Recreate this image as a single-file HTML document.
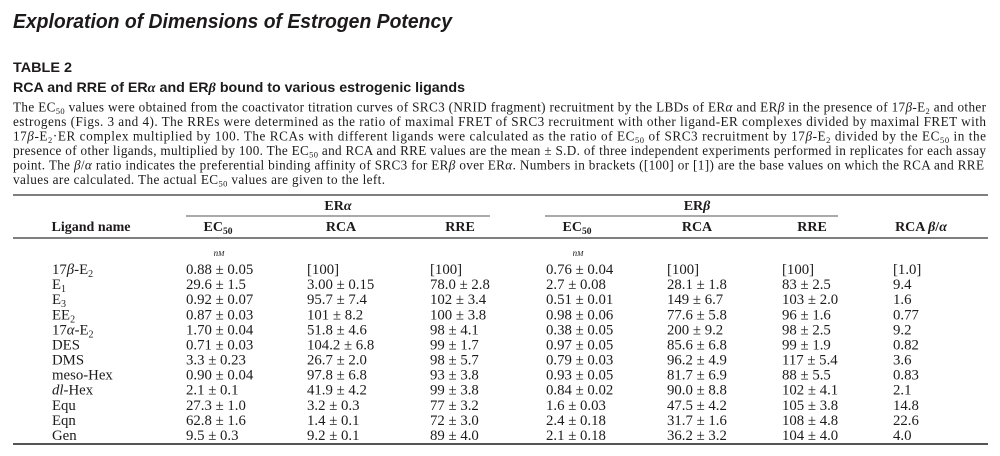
<!DOCTYPE html>
<html><head><meta charset="utf-8">
<style>
html,body{margin:0;padding:0;background:#fff;width:1000px;height:456px;overflow:hidden}
svg{display:block}
.s{font-family:"Liberation Serif",serif;fill:#1c1a1b}
.h{font-family:"Liberation Sans",sans-serif;fill:#1c1a1b}
</style></head>
<body>
<svg width="1000" height="456" viewBox="0 0 1000 456" xmlns="http://www.w3.org/2000/svg">
<rect width="1000" height="456" fill="#fff"/>

<!-- Title -->
<text class="h" x="13" y="28" font-size="20.5" font-style="italic" font-weight="bold" textLength="439" lengthAdjust="spacingAndGlyphs" fill="#2a2a2a">Exploration of Dimensions of Estrogen Potency</text>

<text class="h" x="13" y="72" font-size="14" font-weight="bold" textLength="59" lengthAdjust="spacingAndGlyphs">TABLE 2</text>
<text class="h" x="13" y="92" font-size="14" font-weight="bold" textLength="452" lengthAdjust="spacingAndGlyphs">RCA and RRE of ER<tspan class="s" font-style="italic">α</tspan> and ER<tspan class="s" font-style="italic">β</tspan> bound to various estrogenic ligands</text>

<!-- Caption -->
<g class="s" font-size="13.2">
<text class="s" x="13" y="111.5" textLength="973" lengthAdjust="spacing">The EC<tspan font-size="8.5" dy="2.5">50</tspan><tspan dy="-2.5"> values were obtained from the coactivator titration curves of SRC3 (NRID fragment) recruitment by the LBDs of ER</tspan><tspan font-style="italic">α</tspan> and ER<tspan font-style="italic">β</tspan> in the presence of 17<tspan font-style="italic">β</tspan>-E<tspan font-size="8.5" dy="2.5">2</tspan><tspan dy="-2.5"> and other</tspan></text>
<text class="s" x="13" y="126" textLength="973" lengthAdjust="spacing">estrogens (Figs. 3 and 4). The RREs were determined as the ratio of maximal FRET of SRC3 recruitment with other ligand-ER complexes divided by maximal FRET with</text>
<text class="s" x="13" y="140.5" textLength="973" lengthAdjust="spacing">17<tspan font-style="italic">β</tspan>-E<tspan font-size="8.5" dy="2.5">2</tspan><tspan dy="-2.5">·ER complex multiplied by 100. The RCAs with different ligands were calculated as the ratio of EC</tspan><tspan font-size="8.5" dy="2.5">50</tspan><tspan dy="-2.5"> of SRC3 recruitment by 17</tspan><tspan font-style="italic">β</tspan>-E<tspan font-size="8.5" dy="2.5">2</tspan><tspan dy="-2.5"> divided by the EC</tspan><tspan font-size="8.5" dy="2.5">50</tspan><tspan dy="-2.5"> in the</tspan></text>
<text class="s" x="13" y="155" textLength="973" lengthAdjust="spacing">presence of other ligands, multiplied by 100. The EC<tspan font-size="8.5" dy="2.5">50</tspan><tspan dy="-2.5"> and RCA and RRE values are the mean ± S.D. of three independent experiments performed in replicates for each assay</tspan></text>
<text class="s" x="13" y="169.5" textLength="971" lengthAdjust="spacing">point. The <tspan font-style="italic">β</tspan>/<tspan font-style="italic">α</tspan> ratio indicates the preferential binding affinity of SRC3 for ER<tspan font-style="italic">β</tspan> over ER<tspan font-style="italic">α</tspan>. Numbers in brackets ([100] or [1]) are the base values on which the RCA and RRE</text>
<text class="s" x="13" y="184" textLength="372" lengthAdjust="spacing">values are calculated. The actual EC<tspan font-size="8.5" dy="2.5">50</tspan><tspan dy="-2.5"> values are given to the left.</tspan></text>
</g>

<!-- Rules -->
<line x1="13" y1="195" x2="988" y2="195" stroke="#555" stroke-width="1.4"/>
<line x1="186" y1="216" x2="490" y2="216" stroke="#555" stroke-width="1"/>
<line x1="545" y1="216" x2="838" y2="216" stroke="#555" stroke-width="1"/>
<line x1="13" y1="238" x2="988" y2="238" stroke="#555" stroke-width="1.4"/>
<line x1="13" y1="444" x2="988" y2="444" stroke="#555" stroke-width="2"/>

<!-- Header -->
<g class="s" font-size="14" font-weight="bold" text-anchor="middle">
<text class="s" x="338" y="210">ER<tspan font-style="italic">α</tspan></text>
<text class="s" x="697" y="210">ER<tspan font-style="italic">β</tspan></text>
<text class="s" x="91" y="231">Ligand name</text>
<text class="s" x="218" y="231">EC<tspan font-size="9.5" dy="3">50</tspan></text>
<text class="s" x="341" y="231">RCA</text>
<text class="s" x="460" y="231">RRE</text>
<text class="s" x="577" y="231">EC<tspan font-size="9.5" dy="3">50</tspan></text>
<text class="s" x="697" y="231">RCA</text>
<text class="s" x="812" y="231">RRE</text>
<text class="s" x="921" y="231">RCA <tspan font-style="italic">β</tspan>/<tspan font-style="italic">α</tspan></text>
</g>
<text class="s" x="219" y="256" font-size="9" font-style="italic" text-anchor="middle">n<tspan font-size="7.5">M</tspan></text>
<text class="s" x="578" y="256" font-size="9" font-style="italic" text-anchor="middle">n<tspan font-size="7.5">M</tspan></text>

<!-- Body -->
<g class="s" font-size="14.8">
<text class="s" x="52" y="274">17<tspan font-style="italic">β</tspan>-E<tspan font-size="10" dy="3">2</tspan></text>
<text class="s" x="52" y="289.1">E<tspan font-size="10" dy="3">1</tspan></text>
<text class="s" x="52" y="304.2">E<tspan font-size="10" dy="3">3</tspan></text>
<text class="s" x="52" y="319.3">EE<tspan font-size="10" dy="3">2</tspan></text>
<text class="s" x="52" y="334.4">17<tspan font-style="italic">α</tspan>-E<tspan font-size="10" dy="3">2</tspan></text>
<text class="s" x="52" y="349.5">DES</text>
<text class="s" x="52" y="364.5">DMS</text>
<text class="s" x="52" y="379.6">meso-Hex</text>
<text class="s" x="52" y="394.7"><tspan font-style="italic">dl</tspan>-Hex</text>
<text class="s" x="52" y="409.8">Equ</text>
<text class="s" x="52" y="424.9">Eqn</text>
<text class="s" x="52" y="440">Gen</text>

<text class="s" x="186" y="274">0.88 ± 0.05</text>
<text class="s" x="186" y="289.1">29.6 ± 1.5</text>
<text class="s" x="186" y="304.2">0.92 ± 0.07</text>
<text class="s" x="186" y="319.3">0.87 ± 0.03</text>
<text class="s" x="186" y="334.4">1.70 ± 0.04</text>
<text class="s" x="186" y="349.5">0.71 ± 0.03</text>
<text class="s" x="186" y="364.5">3.3 ± 0.23</text>
<text class="s" x="186" y="379.6">0.90 ± 0.04</text>
<text class="s" x="186" y="394.7">2.1 ± 0.1</text>
<text class="s" x="186" y="409.8">27.3 ± 1.0</text>
<text class="s" x="186" y="424.9">62.8 ± 1.6</text>
<text class="s" x="186" y="440">9.5 ± 0.3</text>

<text class="s" x="307" y="274">[100]</text>
<text class="s" x="307" y="289.1">3.00 ± 0.15</text>
<text class="s" x="307" y="304.2">95.7 ± 7.4</text>
<text class="s" x="307" y="319.3">101 ± 8.2</text>
<text class="s" x="307" y="334.4">51.8 ± 4.6</text>
<text class="s" x="307" y="349.5">104.2 ± 6.8</text>
<text class="s" x="307" y="364.5">26.7 ± 2.0</text>
<text class="s" x="307" y="379.6">97.8 ± 6.8</text>
<text class="s" x="307" y="394.7">41.9 ± 4.2</text>
<text class="s" x="307" y="409.8">3.2 ± 0.3</text>
<text class="s" x="307" y="424.9">1.4 ± 0.1</text>
<text class="s" x="307" y="440">9.2 ± 0.1</text>

<text class="s" x="430" y="274">[100]</text>
<text class="s" x="430" y="289.1">78.0 ± 2.8</text>
<text class="s" x="430" y="304.2">102 ± 3.4</text>
<text class="s" x="430" y="319.3">100 ± 3.8</text>
<text class="s" x="430" y="334.4">98 ± 4.1</text>
<text class="s" x="430" y="349.5">99 ± 1.7</text>
<text class="s" x="430" y="364.5">98 ± 5.7</text>
<text class="s" x="430" y="379.6">93 ± 3.8</text>
<text class="s" x="430" y="394.7">99 ± 3.8</text>
<text class="s" x="430" y="409.8">77 ± 3.2</text>
<text class="s" x="430" y="424.9">72 ± 3.0</text>
<text class="s" x="430" y="440">89 ± 4.0</text>

<text class="s" x="546" y="274">0.76 ± 0.04</text>
<text class="s" x="546" y="289.1">2.7 ± 0.08</text>
<text class="s" x="546" y="304.2">0.51 ± 0.01</text>
<text class="s" x="546" y="319.3">0.98 ± 0.06</text>
<text class="s" x="546" y="334.4">0.38 ± 0.05</text>
<text class="s" x="546" y="349.5">0.97 ± 0.05</text>
<text class="s" x="546" y="364.5">0.79 ± 0.03</text>
<text class="s" x="546" y="379.6">0.93 ± 0.05</text>
<text class="s" x="546" y="394.7">0.84 ± 0.02</text>
<text class="s" x="546" y="409.8">1.6 ± 0.03</text>
<text class="s" x="546" y="424.9">2.4 ± 0.18</text>
<text class="s" x="546" y="440">2.1 ± 0.18</text>

<text class="s" x="667" y="274">[100]</text>
<text class="s" x="667" y="289.1">28.1 ± 1.8</text>
<text class="s" x="667" y="304.2">149 ± 6.7</text>
<text class="s" x="667" y="319.3">77.6 ± 5.8</text>
<text class="s" x="667" y="334.4">200 ± 9.2</text>
<text class="s" x="667" y="349.5">85.6 ± 6.8</text>
<text class="s" x="667" y="364.5">96.2 ± 4.9</text>
<text class="s" x="667" y="379.6">81.7 ± 6.9</text>
<text class="s" x="667" y="394.7">90.0 ± 8.8</text>
<text class="s" x="667" y="409.8">47.5 ± 4.2</text>
<text class="s" x="667" y="424.9">31.7 ± 1.6</text>
<text class="s" x="667" y="440">36.2 ± 3.2</text>

<text class="s" x="782" y="274">[100]</text>
<text class="s" x="782" y="289.1">83 ± 2.5</text>
<text class="s" x="782" y="304.2">103 ± 2.0</text>
<text class="s" x="782" y="319.3">96 ± 1.6</text>
<text class="s" x="782" y="334.4">98 ± 2.5</text>
<text class="s" x="782" y="349.5">99 ± 1.9</text>
<text class="s" x="782" y="364.5">117 ± 5.4</text>
<text class="s" x="782" y="379.6">88 ± 5.5</text>
<text class="s" x="782" y="394.7">102 ± 4.1</text>
<text class="s" x="782" y="409.8">105 ± 3.8</text>
<text class="s" x="782" y="424.9">108 ± 4.8</text>
<text class="s" x="782" y="440">104 ± 4.0</text>

<text class="s" x="893" y="274">[1.0]</text>
<text class="s" x="893" y="289.1">9.4</text>
<text class="s" x="893" y="304.2">1.6</text>
<text class="s" x="893" y="319.3">0.77</text>
<text class="s" x="893" y="334.4">9.2</text>
<text class="s" x="893" y="349.5">0.82</text>
<text class="s" x="893" y="364.5">3.6</text>
<text class="s" x="893" y="379.6">0.83</text>
<text class="s" x="893" y="394.7">2.1</text>
<text class="s" x="893" y="409.8">14.8</text>
<text class="s" x="893" y="424.9">22.6</text>
<text class="s" x="893" y="440">4.0</text>
</g>
</svg>
</body></html>
